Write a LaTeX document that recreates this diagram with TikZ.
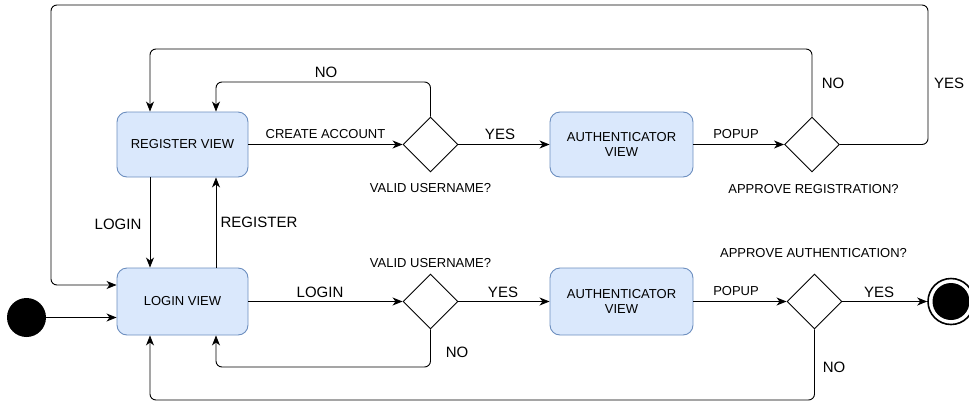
\documentclass[tikz,border=0pt]{standalone}
\usepackage{fontspec}
\setmainfont{Liberation Sans}
\usetikzlibrary{arrows.meta,shapes.geometric}
\definecolor{viewfill}{HTML}{DAE8FC}
\definecolor{viewdraw}{HTML}{6C8EBF}
\tikzset{
  view/.style={draw=viewdraw, fill=viewfill, rounded corners=10pt, line width=0.9pt,
    align=center, inner sep=0pt, font=\fontsize{13}{15}\selectfont},
  choice/.style={draw, diamond, aspect=1, minimum width=55pt, minimum height=55pt,
    inner sep=0pt, line width=0.9pt},
  flow/.style={line width=0.9pt, rounded corners=6pt,
    -{Stealth[length=10pt,width=8pt,inset=3pt]}},
  small/.style={font=\fontsize{13}{15}\selectfont, inner sep=0pt},
  big/.style={font=\fontsize{15}{17}\selectfont, inner sep=0pt},
}
\begin{document}
\begin{tikzpicture}[x=1pt,y=-1pt]
\useasboundingbox (0,0) rectangle (969,402);

% states
\node[view, minimum width=131pt, minimum height=65pt] (reg) at (182.5,144.5) {REGISTER VIEW};
\node[view, minimum width=131pt, minimum height=67pt] (login) at (182.5,301.5) {LOGIN VIEW};
\node[view, minimum width=143pt, minimum height=65pt] (authA) at (621.5,144.5) {AUTHENTICATOR\\VIEW};
\node[view, minimum width=143pt, minimum height=67pt] (authB) at (621.5,301.5) {AUTHENTICATOR\\VIEW};

% decisions
\node[choice] (d1) at (430.5,144.5) {};
\node[choice] (d2) at (812,144.5) {};
\node[choice] (d3) at (430.5,301.5) {};
\node[choice] (d4) at (814.5,301.5) {};

% initial and final states
\node[circle, fill=black, minimum size=39pt, inner sep=0pt] (start) at (26.5,317.5) {};
\node[circle, draw, line width=1.6pt, minimum size=46pt, inner sep=0pt] (fin) at (951,301.5) {};
\fill (fin.center) circle (18.5pt);

% waypoints
\coordinate (yesR) at (928,5);
\coordinate (yesL) at (51,285);
\coordinate (noR) at (812,49);
\coordinate (noRx) at (150,49);
\coordinate (noV) at (430.5,82);
\coordinate (noVx) at (216,82);
\coordinate (lnk) at (150,0);
\coordinate (rnk) at (216,0);
\coordinate (lowA) at (430.5,367);
\coordinate (lowB) at (814.5,400);

% top row
\draw[flow] (reg) -- (d1);
\draw[flow] (d1) -- (authA);
\draw[flow] (authA) -- (d2);
\draw[flow] (d1.north) -- (noV) -- (noVx) -- (reg.north -| rnk);
\draw[flow] (d2.north) -- (noR) -- (noRx) -- (reg.north -| lnk);
\draw[flow] (d2.east) -- (d2.east -| yesR) -- (yesR) -- (yesR -| yesL) -- (yesL) -- (login.west |- yesL);

% between the rows
\draw[flow] (reg.south -| lnk) -- (login.north -| lnk);
\draw[flow] (login.north -| rnk) -- (reg.south -| rnk);

% bottom row
\draw[flow] (start.east) -- (start.east -| login.west);
\draw[flow] (login) -- (d3);
\draw[flow] (d3) -- (authB);
\draw[flow] (authB) -- (d4);
\draw[flow] (d4) -- (fin);
\draw[flow] (d3.south) -- (lowA) -- (lowA -| rnk) -- (login.south -| rnk);
\draw[flow] (d4.south) -- (lowB) -- (lowB -| lnk) -- (login.south -| lnk);

% labels
\node[big] at (326,72) {NO};
\node[small] at (325.5,134) {CREATE ACCOUNT};
\node[big] at (500,134) {YES};
\node[small] at (736,134) {POPUP};
\node[big] at (833,83) {NO};
\node[big] at (949,83) {YES};
\node[small] at (430.5,188) {VALID USERNAME?};
\node[small] at (813.5,189) {APPROVE REGISTRATION?};
\node[big] at (118,224) {LOGIN};
\node[big] at (259,222) {REGISTER};
\node[small] at (430.5,263) {VALID USERNAME?};
\node[small] at (813.5,253) {APPROVE AUTHENTICATION?};
\node[big] at (320,292) {LOGIN};
\node[big] at (503,292) {YES};
\node[small] at (736,291) {POPUP};
\node[big] at (879,292) {YES};
\node[big] at (457,352) {NO};
\node[big] at (834,367) {NO};
\end{tikzpicture}
\end{document}
